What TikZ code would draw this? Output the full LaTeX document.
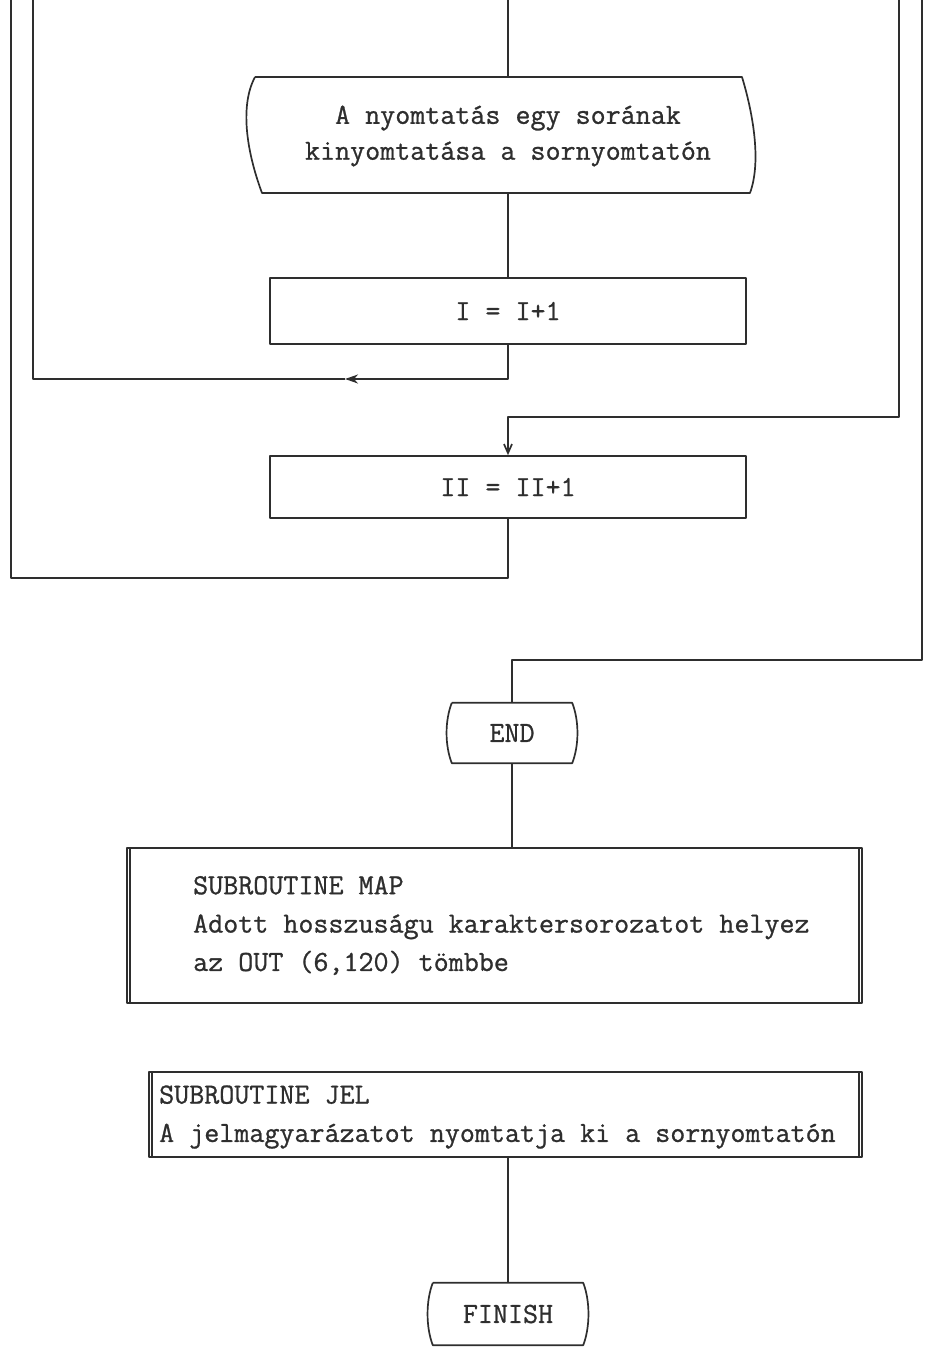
\documentclass[tikz,border=0pt]{standalone}
\usepackage{fontspec}
\newfontfamily\typew{Latin Modern Mono}[FakeBold=0.9]
\usetikzlibrary{arrows.meta}
\definecolor{ink}{gray}{0.18}
\begin{document}
\begin{tikzpicture}[x=1bp,y=-1bp,
  line/.style={line width=1.7bp, draw=ink, line join=round},
  box/.style={line, rectangle, inner sep=0pt},
  lbl/.style={font=\fontsize{29.3}{36}\selectfont\typew, text=ink},
  lbltwo/.style={font=\fontsize{29.3}{38.5}\selectfont\typew, text=ink, anchor=west, align=left, inner sep=0pt},
  tipA/.style={-{Stealth[length=13bp,width=9bp,inset=4bp]}},
  tipB/.style={-{Straight Barb[length=9bp,width=8bp]}}]
\useasboundingbox (0,0) rectangle (948,1347);

% nodes
\node[lbl, align=center, inner sep=0pt, minimum width=480bp, minimum height=116bp] (out) at (508,136)
  {A nyomtatás egy sorának\\kinyomtatása a sornyomtatón};
\node[box, lbl, minimum width=476bp, minimum height=66bp] (inc1) at (508,311) {I = I+1};
\node[box, lbl, minimum width=476bp, minimum height=62bp] (inc2) at (508,487) {II = II+1};
\node[lbl, inner sep=0pt, minimum width=120bp, minimum height=60bp] (end) at (512,733) {END};
\node[box, minimum width=735bp, minimum height=155bp] (map) at (494.5,925.5) {};
\node[lbltwo] (maptxt) at (193,925.5)
  {SUBROUTINE MAP\\Adott hosszuságu karaktersorozatot helyez\\az OUT (6,120) tömbbe};
\node[box, minimum width=713bp, minimum height=85bp] (jel) at (505.5,1114.5) {};
\node[lbltwo] (jeltxt) at (159,1117)
  {SUBROUTINE JEL\\A jelmagyarázatot nyomtatja ki a sornyomtatón};
\node[lbl, inner sep=0pt, minimum width=150bp, minimum height=62bp] (finish) at (508,1314) {FINISH};

% output (printer) shape
\coordinate (onw) at (255,77);
\coordinate (one) at (742,77);
\coordinate (ose) at (750,193);
\coordinate (osw) at (262,193);
\draw[line] (onw) -- (one) .. controls (752,110) and (762,160) .. (ose)
  -- (osw) .. controls (246,150) and (240,105) .. (onw);

% terminal shapes
\draw[line] (end.north west) -- (end.north east)
  .. controls +(7,18) and +(7,-18) .. (end.south east)
  -- (end.south west)
  .. controls +(-7,-18) and +(-7,18) .. (end.north west);
\draw[line] (finish.north west) -- (finish.north east)
  .. controls +(7,18) and +(7,-18) .. (finish.south east)
  -- (finish.south west)
  .. controls +(-7,-18) and +(-7,18) .. (finish.north west);

% double side lines of subroutine boxes
\draw[line] ([xshift=4bp]map.north west) -- ([xshift=4bp]map.south west);
\draw[line] ([xshift=-4bp]map.north east) -- ([xshift=-4bp]map.south east);
\draw[line] ([xshift=4bp]jel.north west) -- ([xshift=4bp]jel.south west);
\draw[line] ([xshift=-4bp]jel.north east) -- ([xshift=-4bp]jel.south east);

% connectors
\coordinate (t0) at (508,0);
\draw[line] (t0) -- (out.north);
\draw[line] (out.south) -- (inc1.north);

\coordinate (am) at (345,379);
\coordinate (c2) at (33,379);
\coordinate (c2t) at (33,0);
\draw[line, tipA] (inc1.south) |- (am);
\draw[line] (am) -- (c2) -- (c2t);

\coordinate (c3t) at (899,0);
\coordinate (c3) at (899,417);
\draw[line, tipB] (c3t) -- (c3) -| (inc2.north);

\coordinate (c1) at (11,578);
\coordinate (c1t) at (11,0);
\draw[line] (inc2.south) |- (c1) -- (c1t);

\coordinate (c4t) at (922,0);
\coordinate (c4) at (922,660);
\draw[line] (c4t) -- (c4) -| (end.north);

\draw[line] (end.south) -- (end.south |- map.north);
\draw[line] (finish.north |- jel.south) -- (finish.north);
\end{tikzpicture}
\end{document}
